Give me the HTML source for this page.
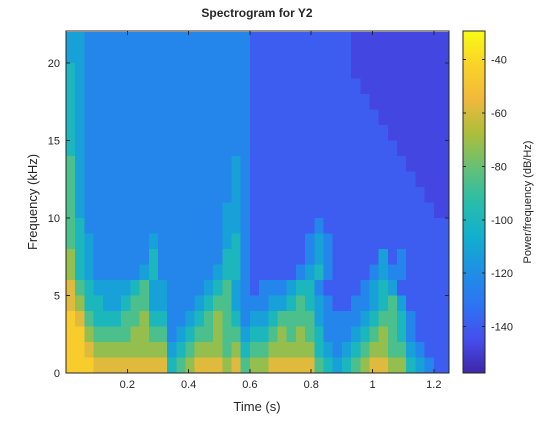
<!DOCTYPE html>
<html><head><meta charset="utf-8"><style>
body{margin:0;background:#fff;width:560px;height:420px;overflow:hidden}
text{font-family:"Liberation Sans",sans-serif;fill:#262626}
</style></head><body>
<svg id="chart" width="560" height="420" xmlns="http://www.w3.org/2000/svg" shape-rendering="crispEdges">
<rect width="560" height="420" fill="#fff"/>
<text x="257" y="17" font-size="12" font-weight="bold" text-anchor="middle">Spectrogram for Y2</text>
<g id="cells"></g>
<rect x="66" y="31" width="383" height="342" fill="none" stroke="#262626" stroke-width="0.8"/>
<g id="axes"></g>
<text x="257" y="411" font-size="13" text-anchor="middle">Time (s)</text>
<text transform="translate(37,202) rotate(-90)" font-size="13" text-anchor="middle">Frequency (kHz)</text>
<g id="cbar"></g>
<text transform="translate(531,202) rotate(-90)" font-size="11" text-anchor="middle">Power/frequency (dB/Hz)</text>
</svg>
<script>
// time bins: 42 bins of 0.03 s ; frequency bins: 22 rows of 1 kHz (top row = 21-22 kHz)
const timeStep = 0.03;
const freqStep = 1;
const levelRows = [
"443333 333333 333333 332222 222222 211111 111111",
"443333 333333 333333 332222 222222 211111 111111",
"543333 333333 333333 332222 222222 211111 111111",
"543333 333333 333333 332222 222222 221111 111111",
"543333 333333 333333 332222 222222 222111 111111",
"543333 333333 333333 332222 222222 222211 111111",
"543333 333333 333333 332222 222222 222221 111111",
"543333 333333 333333 332222 222222 222222 111111",
"643333 333333 333333 432222 222222 222222 211111",
"643333 333333 333333 432222 222222 222222 221111",
"643333 333333 333333 432222 222222 222222 222111",
"643333 333333 333334 432222 222222 222222 222211",
"653333 333333 333334 432222 222322 222222 222222",
"654333 333433 333334 532222 223432 222222 222222",
"754333 333533 333335 532222 223432 222242 322222",
"754333 334533 333345 532222 234532 222343 322222",
"865444 456443 333456 432333 455322 223454 222222",
"875544 566443 334566 433344 565432 233456 422222",
"986555 667553 345676 534456 666433 334566 532222",
"997666 677663 456676 645567 676533 345676 532222",
"998777 777774 567776 756677 777543 456776 643222",
"999888 888885 678887 867788 888654 567887 754322"
];
const levelToDb = [-154,-147,-140,-124,-112,-100,-86,-72,-58,-45];
const xTicks = [0.2,0.4,0.6,0.8,1,1.2];
const xTickLabels = ["0.2","0.4","0.6","0.8","1","1.2"];
const yTicks = [0,5,10,15,20];
const yTickLabels = ["0","5","10","15","20"];
const cTicks = [-40,-60,-80,-100,-120,-140];
const cTickLabels = ["-40","-60","-80","-100","-120","-140"];

const X0=66,X1=449,Y0=373,Y1=31;
const tMin=0,tMax=1.2495,fMin=0,fMax=22.06,dbMin=-157.4,dbMax=-29.3;
const xs=t=>X0+(t-tMin)/(tMax-tMin)*(X1-X0);
const ys=f=>Y0-(f-fMin)/(fMax-fMin)*(Y0-Y1);
const CB0=463,CB1=485;
const cs=db=>Y0-(db-dbMin)/(dbMax-dbMin)*(Y0-Y1);
const stops=[[62,38,168],[70,78,238],[45,116,243],[30,144,228],[17,176,206],[40,189,170],[101,192,118],[172,190,58],[240,185,60],[250,210,40],[249,251,21]];
function parula(v){v=Math.max(0,Math.min(1,v));const p=v*(stops.length-1);const i=Math.min(stops.length-2,Math.floor(p));const f=p-i;
 const a=stops[i],b=stops[i+1];return `rgb(${a.map((c,k)=>Math.round(c+(b[k]-c)*f)).join(',')})`;}
const NS="http://www.w3.org/2000/svg";
function mk(tag,attrs,parent){const e=document.createElementNS(NS,tag);for(const k in attrs)e.setAttribute(k,attrs[k]);parent.appendChild(e);return e;}
const cells=document.getElementById('cells');
const nRows=levelRows.length;
levelRows.forEach((row,ri)=>{
 const s=row.replace(/ /g,'');
 const fLo=(nRows-1-ri)*freqStep;
 for(let c=0;c<s.length;c++){
  const db=levelToDb[+s[c]];
  const t0=c*timeStep,t1=Math.min(tMax,(c+1)*timeStep);
  const x=xs(t0),w=xs(t1)-x;
  const yTop=ys(Math.min(fMax,fLo+freqStep)),h=ys(fLo)-yTop;
  const r=mk('rect',{x:x,y:yTop,width:w+0.5,height:h+0.5,fill:parula((db-dbMin)/(dbMax-dbMin))},cells);
  
  
 }
});
const axes=document.getElementById('axes');
xTicks.forEach((t,i)=>{const x=xs(t);
 mk('line',{x1:x,x2:x,y1:Y0,y2:Y0-4,stroke:'#262626'},axes);
 mk('line',{x1:x,x2:x,y1:Y1,y2:Y1+4,stroke:'#262626'},axes);
 const tx=mk('text',{x:x,y:Y0+15,'font-size':11,'text-anchor':'middle'},axes);tx.textContent=xTickLabels[i];
 
 });
yTicks.forEach((f,i)=>{const y=ys(f);
 mk('line',{x1:X0,x2:X0+4,y1:y,y2:y,stroke:'#262626'},axes);
 mk('line',{x1:X1,x2:X1-4,y1:y,y2:y,stroke:'#262626'},axes);
 const tx=mk('text',{x:X0-6,y:y+4,'font-size':11,'text-anchor':'end'},axes);tx.textContent=yTickLabels[i];
 
 });
const cb=document.getElementById('cbar');
for(let y=Y1;y<Y0;y++){mk('rect',{x:CB0,y:y,width:CB1-CB0,height:1.2,fill:parula((Y0-y-0.5)/(Y0-Y1))},cb);}
mk('rect',{x:CB0,y:Y1,width:CB1-CB0,height:Y0-Y1,fill:'none',stroke:'#262626','stroke-width':0.8},cb);
cTicks.forEach((d,i)=>{const y=cs(d);
 mk('line',{x1:CB1,x2:CB1-3,y1:y,y2:y,stroke:'#262626'},cb);
 mk('line',{x1:CB0,x2:CB0+3,y1:y,y2:y,stroke:'#262626'},cb);
 const tx=mk('text',{x:CB1+6,y:y+4,'font-size':11},cb);tx.textContent=cTickLabels[i];
 
 });
</script>
</body></html>
